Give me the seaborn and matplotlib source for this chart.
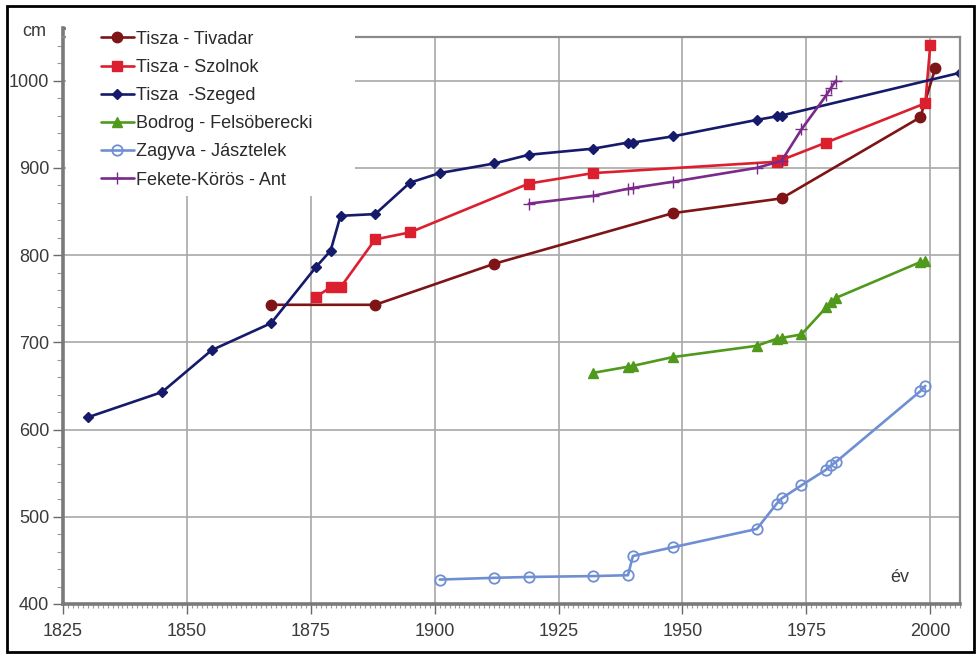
import matplotlib
matplotlib.use("Agg")
import matplotlib.pyplot as plt
from matplotlib.patches import Rectangle
from matplotlib.ticker import MultipleLocator
import seaborn as sns
import pandas as pd

# Flood peak levels (cm) at gauging stations, by year
tivadar_years = [1867, 1888, 1912, 1948, 1970, 1998, 2001]
tivadar_cm = [743, 743, 790, 848, 865, 958, 1014]

szolnok_years = [1876, 1879, 1881, 1888, 1895, 1919, 1932, 1969, 1970, 1979, 1999, 2000]
szolnok_cm = [752, 763, 763, 818, 826, 882, 894, 907, 909, 929, 974, 1041]

szeged_years = [1830, 1845, 1855, 1867, 1876, 1879, 1881, 1888, 1895, 1901, 1912,
                1919, 1932, 1939, 1940, 1948, 1965, 1969, 1970, 2006]
szeged_cm = [614, 643, 691, 722, 786, 805, 845, 847, 883, 894, 905,
             915, 922, 929, 929, 936, 955, 959, 960, 1009]

bodrog_years = [1932, 1939, 1940, 1948, 1965, 1969, 1970, 1974, 1979, 1980, 1981, 1998, 1999]
bodrog_cm = [665, 672, 673, 683, 696, 704, 705, 709, 740, 746, 751, 792, 793]

zagyva_years = [1901, 1912, 1919, 1932, 1939, 1940, 1948, 1965, 1969, 1970, 1974,
                1979, 1980, 1981, 1998, 1999]
zagyva_cm = [428, 430, 431, 432, 433, 455, 465, 486, 515, 521, 536,
             554, 559, 563, 644, 650]

fekete_years = [1919, 1932, 1939, 1940, 1948, 1965, 1970, 1974, 1979, 1980, 1981]
fekete_cm = [859, 868, 876, 877, 884, 900, 908, 944, 983, 992, 1000]

series = [
    ("Tisza - Tivadar", tivadar_years, tivadar_cm, "#7e1416", "o", 7.5, True),
    ("Tisza - Szolnok", szolnok_years, szolnok_cm, "#dc1f2e", "s", 6.5, True),
    ("Tisza  -Szeged", szeged_years, szeged_cm, "#161a6a", "D", 5.5, True),
    ("Bodrog - Felsöberecki", bodrog_years, bodrog_cm, "#4f9a1c", "^", 7.5, True),
    ("Zagyva - Jásztelek", zagyva_years, zagyva_cm, "#6f8fd2", "o", 7.5, False),
    ("Fekete-Körös - Ant", fekete_years, fekete_cm, "#7a2a88", "+", 8.0, True),
]

FS = 13

sns.set_theme(style="white")
plt.rcParams["font.family"] = ["Liberation Sans", "DejaVu Sans"]

fig = plt.figure(figsize=(9.79, 6.57), dpi=100)
ax = fig.add_axes([63 / 979, 1 - 604 / 657, (960 - 63) / 979, (604 - 37) / 657])

for name, yrs, vals, color, marker, ms, filled in series:
    df = pd.DataFrame({"year": yrs, "cm": vals})
    sns.lineplot(data=df, x="year", y="cm", ax=ax, color=color, marker=marker,
                 markersize=ms, linewidth=1.9, estimator=None, sort=False,
                 label=name,
                 markerfacecolor=color if filled else "none",
                 markeredgecolor=color, markeredgewidth=1.3 if not filled else 1.0)

ax.set_xlim(1825, 2006)
ax.set_ylim(400, 1050)
ax.xaxis.set_major_locator(MultipleLocator(25))
ax.xaxis.set_minor_locator(MultipleLocator(1))
ax.yaxis.set_major_locator(MultipleLocator(100))
ax.yaxis.set_minor_locator(MultipleLocator(20))
ax.set_xlabel("")
ax.set_ylabel("")

ax.grid(True, which="major", color="#a8a8a8", linewidth=1.2)
ax.set_axisbelow(True)

for side in ("left", "bottom"):
    ax.spines[side].set_color("#7a7a7a")
    ax.spines[side].set_linewidth(2.6)
for side in ("top", "right"):
    ax.spines[side].set_color("#8a8a8a")
    ax.spines[side].set_linewidth(1.6)
ax.spines["left"].set_bounds(400, 1060)

ax.tick_params(axis="both", which="major", labelsize=FS, colors="#6a6a6a",
               labelcolor="#3a3a3a", direction="out", length=7, width=1.0)
ax.tick_params(axis="both", which="minor", colors="#9a9a9a", direction="out",
               length=4, width=0.8)
ax.tick_params(axis="x", which="major", pad=7)
ax.tick_params(axis="y", which="major", pad=3)
ax.tick_params(axis="x", which="minor", length=3)
ax.tick_params(bottom=True, left=True, which="both")

# small cap at the top of the value axis
ax.plot([1825, 1827.5], [1060, 1060], color="#7a7a7a", linewidth=2.0,
        clip_on=False, zorder=3)

# white panel behind the legend
ax.add_patch(Rectangle((66 / 979, 1 - 196 / 657), (355 - 66) / 979, (196 - 14) / 657,
                       transform=fig.transFigure, facecolor="white", edgecolor="none",
                       zorder=4, clip_on=False))

leg = ax.legend(loc="upper left", bbox_to_anchor=(88 / 979, 1 - 18 / 657),
                bbox_transform=fig.transFigure, frameon=False, fontsize=FS,
                handlelength=1.85, handletextpad=0.12, labelspacing=0.62,
                borderpad=0.2)
leg.set_zorder(6)
for t in leg.get_texts():
    t.set_color("#2a2a2a")

fig.text(22 / 979, 1 - 31 / 657, "cm", fontsize=FS, color="#3a3a3a",
         ha="left", va="center")
ax.text(0.933, 0.046, "év", transform=ax.transAxes, fontsize=FS,
        color="#3a3a3a", ha="center", va="center")

# outer frame around the whole figure
fig.patches.append(Rectangle((0.007, 0.008), 0.988, 0.983, transform=fig.transFigure,
                             facecolor="none", edgecolor="black", linewidth=2.0))

fig.savefig("out.png", dpi=100)
